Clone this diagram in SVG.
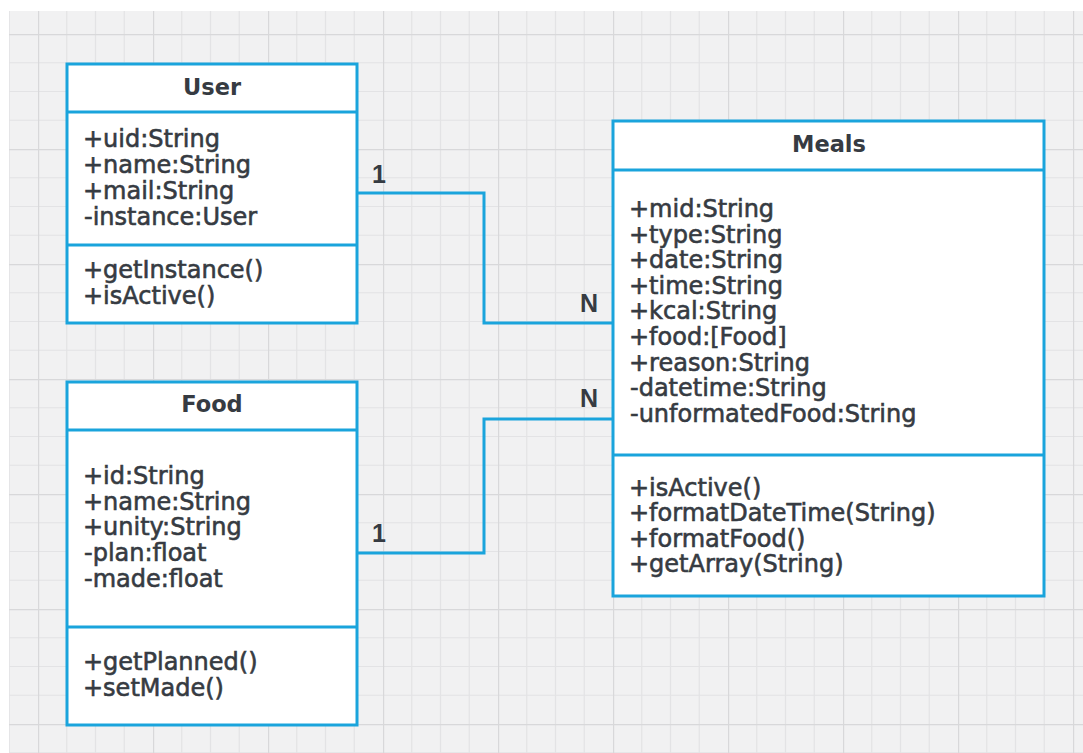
<svg xmlns="http://www.w3.org/2000/svg" width="1083" height="753" viewBox="0 0 1083 753">
  <defs>
    <!-- canvas grid: major cell 115px split into four minor cells -->
    <pattern id="grid" patternUnits="userSpaceOnUse" x="38" y="34" width="115" height="115">
      <rect width="115" height="115" fill="#f1f1f2"/>
      <path d="M28.75 0V115M57.5 0V115M86.25 0V115M0 28.75H115M0 57.5H115M0 86.25H115" stroke="#e3e3e5" stroke-width="1.2" fill="none"/>
      <path d="M0.5 0V115M0 0.5H115" stroke="#d8d8da" stroke-width="1.4" fill="none"/>
    </pattern>
    <style>
      .box { fill: #ffffff; stroke: #1aa4dc; stroke-width: 3; }
      .sep { stroke: #1aa4dc; stroke-width: 3; fill: none; }
      .title { font-family: "DejaVu Sans", "Liberation Sans", sans-serif; font-size: 22.5px; font-weight: bold; fill: #363b42; text-anchor: middle; }
      .member { font-family: "DejaVu Sans", "Liberation Sans", sans-serif; font-size: 24px; fill: #363b42; stroke: #363b42; stroke-width: 0.6; }
      .link { stroke: #1aa4dc; stroke-width: 3; fill: none; }
      .mult { font-family: "Liberation Sans", "DejaVu Sans", sans-serif; font-size: 25px; font-weight: bold; fill: #363b42; }
    </style>
  </defs>

  <rect width="1083" height="753" fill="#ffffff"/>
  <rect x="9" y="11" width="1074" height="742" fill="url(#grid)"/>

  <!-- associations -->
  <g id="connectors">
    <polyline class="link" points="357,193 484,193 484,323 613,323"/>
    <polyline class="link" points="357,553 484,553 484,419 613,419"/>
    <text class="mult" x="372" y="183">1</text>
    <text class="mult" x="580" y="312">N</text>
    <text class="mult" x="580" y="407">N</text>
    <text class="mult" x="372" y="542">1</text>
  </g>

  <!-- User class -->
  <g id="user">
    <rect class="box" x="67" y="64" width="290" height="259"/>
    <path class="sep" d="M67 112H357M67 245H357"/>
    <text class="title" x="212" y="95">User</text>
    <text class="member" x="83" y="147">
      <tspan x="83">+uid:String</tspan>
      <tspan x="83" dy="26">+name:String</tspan>
      <tspan x="83" dy="26">+mail:String</tspan>
      <tspan x="84" dy="26">-instance:User</tspan>
    </text>
    <text class="member" x="83" y="278">
      <tspan x="83">+getInstance()</tspan>
      <tspan x="83" dy="26">+isActive()</tspan>
    </text>
  </g>

  <!-- Food class -->
  <g id="food">
    <rect class="box" x="67" y="382" width="290" height="343"/>
    <path class="sep" d="M67 430H357M67 627H357"/>
    <text class="title" x="212" y="412">Food</text>
    <text class="member" x="83" y="484">
      <tspan x="83">+id:String</tspan>
      <tspan x="83" dy="25.7">+name:String</tspan>
      <tspan x="83" dy="25.7">+unity:String</tspan>
      <tspan x="84" dy="25.7">-plan:float</tspan>
      <tspan x="84" dy="25.7">-made:float</tspan>
    </text>
    <text class="member" x="83" y="670">
      <tspan x="83">+getPlanned()</tspan>
      <tspan x="83" dy="26">+setMade()</tspan>
    </text>
  </g>

  <!-- Meals class -->
  <g id="meals">
    <rect class="box" x="613" y="121" width="431" height="475"/>
    <path class="sep" d="M613 170H1044M613 455H1044"/>
    <text class="title" x="829" y="152">Meals</text>
    <text class="member" x="629" y="217">
      <tspan x="629">+mid:String</tspan>
      <tspan x="629" dy="25.6">+type:String</tspan>
      <tspan x="629" dy="25.6">+date:String</tspan>
      <tspan x="629" dy="25.6">+time:String</tspan>
      <tspan x="629" dy="25.6">+kcal:String</tspan>
      <tspan x="629" dy="25.6">+food:[Food]</tspan>
      <tspan x="629" dy="25.6">+reason:String</tspan>
      <tspan x="630" dy="25.6">-datetime:String</tspan>
      <tspan x="630" dy="25.6">-unformatedFood:String</tspan>
    </text>
    <text class="member" x="629" y="496">
      <tspan x="629">+isActive()</tspan>
      <tspan x="629" dy="25.4">+formatDateTime(String)</tspan>
      <tspan x="629" dy="25.4">+formatFood()</tspan>
      <tspan x="629" dy="25.4">+getArray(String)</tspan>
    </text>
  </g>
</svg>
